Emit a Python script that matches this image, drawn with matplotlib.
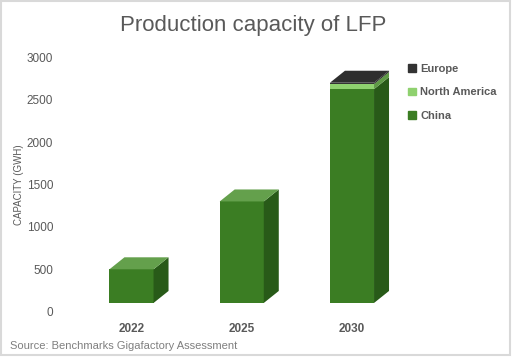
import matplotlib.pyplot as plt
from matplotlib.patches import Polygon, Rectangle
import numpy as np

years = ['2022', '2025', '2030']
china = [500, 1300, 2625]
north_america = [0, 0, 60]
europe = [0, 0, 15]
yticks = [0, 500, 1000, 1500, 2000, 2500, 3000]

# colours: front, side, top
c_china = ('#3b7d23', '#285a18', '#64a04c')
c_na = ('#8fd16f', '#5f9a46', '#a6df86')
c_eu = ('#333333', '#232323', '#2e2e2e')

grey = '#595959'
plt.rcParams['font.family'] = ['Liberation Sans', 'DejaVu Sans']

fig = plt.figure(figsize=(5.12, 3.58), dpi=100)
ax = fig.add_axes([60/512, (358-311.7)/358, 360/512, 254.4/358])
ax.set_xlim(-0.6485, 2.617)
ax.set_ylim(0, 3000)

w = 0.40       # bar width
dx = 0.136     # depth, x units
dy = 141.5     # depth, data units
floor = 103    # front plane sits a little above the back wall zero

x = np.arange(len(years))
series = [(china, c_china), (north_america, c_na), (europe, c_eu)]

# stacked front faces, the first segment starts at the front floor
cum = np.zeros(len(x))
levels = []
for vals, cols in series:
    vals = np.array(vals, dtype=float)
    lo = np.maximum(cum, floor) if not levels else cum.copy()
    hi = cum + vals
    levels.append((lo, hi, vals, cols))
    cum = hi

for lo, hi, vals, cols in levels:
    for i in range(len(x)):
        if vals[i] <= 0:
            continue
        x1 = x[i] + w / 2
        ax.bar(x[i], hi[i] - lo[i], bottom=lo[i], width=w, color=cols[0],
               edgecolor='none', zorder=2)
        side = Polygon([(x1, lo[i]), (x1 + dx, lo[i] + dy),
                        (x1 + dx, hi[i] + dy), (x1, hi[i])],
                       closed=True, facecolor=cols[1], edgecolor='none', zorder=2)
        ax.add_patch(side)

# top faces on the highest segment
for i in range(len(x)):
    x0 = x[i] - w / 2
    x1 = x[i] + w / 2
    top_col = c_china[2]
    for lo, hi, vals, cols in levels:
        if vals[i] > 0:
            top_col = cols[2]
    h = cum[i]
    top = Polygon([(x0, h), (x1, h), (x1 + dx, h + dy), (x0 + dx, h + dy)],
                  closed=True, facecolor=top_col, edgecolor='none', zorder=3)
    ax.add_patch(top)

for s in ax.spines.values():
    s.set_visible(False)
ax.set_yticks(yticks)
ax.set_yticklabels([str(t) for t in yticks])
ax.set_xticks(x)
ax.set_xticklabels(years, fontweight='bold')
ax.tick_params(axis='y', length=0, pad=5, labelsize=8.5, labelcolor=grey)
ax.tick_params(axis='x', length=0, pad=8, labelsize=8.5, labelcolor=grey)
ax.set_ylabel('CAPACITY (GWH)', fontsize=7, color=grey, labelpad=1.5)

# legend (reverse order like Excel)
handles = [Rectangle((0, 0), 1, 1, color=c_eu[0]),
           Rectangle((0, 0), 1, 1, color=c_na[0]),
           Rectangle((0, 0), 1, 1, color=c_china[0])]
leg = fig.legend(handles, ['Europe', 'North America', 'China'],
                 loc='upper left', bbox_to_anchor=(398/512, 1 - 54/358),
                 frameon=False, handlelength=0.7, handleheight=0.7,
                 handletextpad=0.4, labelspacing=1.2,
                 prop={'size': 8, 'weight': 'bold'})
for t in leg.get_texts():
    t.set_color(grey)

fig.text(253/512, 1 - 26/358, 'Production capacity of LFP', ha='center',
         va='center', fontsize=16, color=grey)
fig.text(10/512, 1 - 346/358, 'Source: Benchmarks Gigafactory Assessment',
         ha='left', va='center', fontsize=8, color='#7f7f7f')

# light frame around the chart
fig.patches.append(Rectangle((0.001, 0.008), 0.995, 0.99, transform=fig.transFigure,
                             fill=False, edgecolor='#d9d9d9', linewidth=1.5))

fig.savefig('out.png', dpi=100)
